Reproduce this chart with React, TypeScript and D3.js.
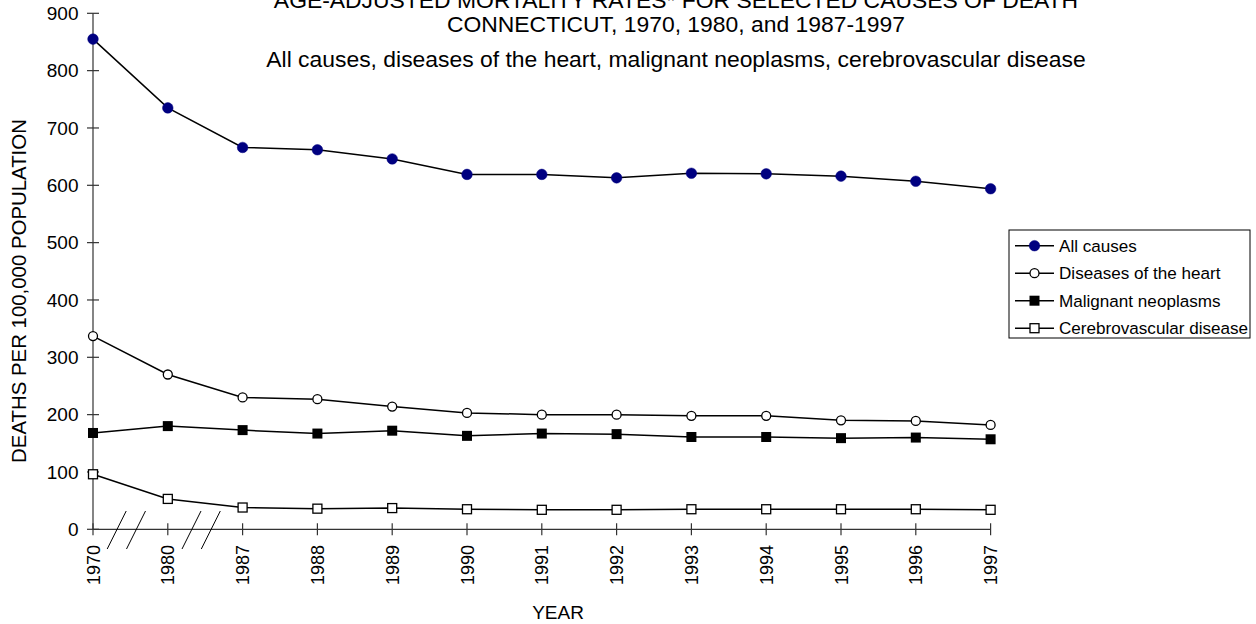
import React from "react";
import * as d3 from "d3";

const years = ["1970", "1980", "1987", "1988", "1989", "1990", "1991", "1992", "1993", "1994", "1995", "1996", "1997"];
const allCauses = [855, 735, 666, 662, 646, 619, 619, 613, 621, 620, 616, 607, 594];
const heartDisease = [337, 270, 230, 227, 214, 203, 200, 200, 198, 198, 190, 189, 182];
const malignantNeoplasms = [168, 180, 173, 167, 172, 163, 167, 166, 161, 161, 159, 160, 157];
const cerebrovascular = [96, 53, 38, 36, 37, 35, 34, 34, 35, 35, 35, 35, 34];
const yTicks = [0, 100, 200, 300, 400, 500, 600, 700, 800, 900];
const seriesNames = ["All causes", "Diseases of the heart", "Malignant neoplasms", "Cerebrovascular disease"];
const breakGaps: [string, string][] = [["1970", "1980"], ["1980", "1987"]];
const titleLines = [
  "AGE-ADJUSTED MORTALITY RATES* FOR SELECTED CAUSES OF DEATH",
  "CONNECTICUT, 1970, 1980, and 1987-1997",
  "All causes, diseases of the heart, malignant neoplasms, cerebrovascular disease",
];

type Marker = "filledCircle" | "openCircle" | "filledSquare" | "openSquare";
const series: { name: string; values: number[]; marker: Marker; fill: string }[] = [
  { name: seriesNames[0], values: allCauses, marker: "filledCircle", fill: "#000080" },
  { name: seriesNames[1], values: heartDisease, marker: "openCircle", fill: "#ffffff" },
  { name: seriesNames[2], values: malignantNeoplasms, marker: "filledSquare", fill: "#000000" },
  { name: seriesNames[3], values: cerebrovascular, marker: "openSquare", fill: "#ffffff" },
];

const FONT = "'Liberation Sans', Arial, sans-serif";

function MarkerShape({ type, x, y, fill }: { type: Marker; x: number; y: number; fill: string }) {
  if (type === "filledCircle") return <circle cx={x} cy={y} r={5.3} fill={fill} stroke={fill} strokeWidth={0.5} />;
  if (type === "openCircle") return <circle cx={x} cy={y} r={4.5} fill="#fff" stroke="#000" strokeWidth={1.3} />;
  if (type === "filledSquare") return <rect x={x - 5} y={y - 5} width={10} height={10} fill="#000" />;
  return <rect x={x - 4.5} y={y - 4.5} width={9} height={9} fill="#fff" stroke="#000" strokeWidth={1.3} />;
}

export default function App() {
  const W = 1256, H = 624;
  const x = d3.scalePoint<string>().domain(years).range([93, 990.6]).padding(0);
  const y = d3.scaleLinear().domain([0, 900]).range([529.3, 13.3]);
  const line = d3
    .line<number>()
    .x((_, i) => x(years[i]) as number)
    .y((d) => y(d));
  const axisColor = "#333";
  const x0 = x(years[0]) as number;
  const x1 = x(years[years.length - 1]) as number;

  const legendX = 1009, legendY = 230, legendW = 241, legendH = 108;
  const rowH = 27.5;

  return (
    <svg width={W} height={H} style={{ position: "absolute", left: 0, top: 0, background: "#fff" }} fontFamily={FONT}>
      <rect width={W} height={H} fill="#fff" />
      {/* Title */}
      {titleLines.map((t, i) => (
        <text key={t} x={676} y={[8, 32, 66.5][i]} textAnchor="middle" fontSize={22.9} fill="#000">
          {t}
        </text>
      ))}
      {/* Y axis */}
      <line x1={x0} x2={x0} y1={y(900)} y2={y(0)} stroke={axisColor} strokeWidth={1.2} />
      {yTicks.map((t) => (
        <g key={t}>
          <line x1={x0 - 6} x2={x0 + 6} y1={y(t)} y2={y(t)} stroke={axisColor} strokeWidth={1.2} />
          <text x={78.5} y={y(t)} dy="0.35em" textAnchor="end" fontSize={19} fill="#000">
            {t}
          </text>
        </g>
      ))}
      {/* X axis */}
      <line x1={x0} x2={x1} y1={y(0)} y2={y(0)} stroke={axisColor} strokeWidth={1.2} />
      {years.map((yr) => (
        <g key={yr}>
          <line x1={x(yr)} x2={x(yr)} y1={y(0) - 6} y2={y(0) + 6} stroke={axisColor} strokeWidth={1.2} />
          <text
            transform={`translate(${(x(yr) as number) + 6.5},545) rotate(-90)`}
            textAnchor="end"
            fontSize={18}
            fill="#000"
          >
            {yr}
          </text>
        </g>
      ))}
      {/* Axis break marks */}
      {breakGaps.map(([a, b]) => {
        const mid = ((x(a) as number) + (x(b) as number)) / 2;
        return [-13.7, 5.6].map((off) => (
          <line
            key={a + off}
            x1={mid + off + 9.5}
            y1={511}
            x2={mid + off - 9.5}
            y2={549}
            stroke="#000"
            strokeWidth={1}
          />
        ));
      })}
      {/* Axis titles */}
      <text transform="translate(26,291) rotate(-90)" textAnchor="middle" fontSize={20.4} fill="#000">
        DEATHS PER 100,000 POPULATION
      </text>
      <text x={558} y={619} textAnchor="middle" fontSize={19} fill="#000">
        YEAR
      </text>
      {/* Series */}
      {series.map((s) => (
        <g key={s.name}>
          <path d={line(s.values) as string} fill="none" stroke="#000" strokeWidth={1.5} />
          {s.values.map((v, i) => (
            <MarkerShape key={i} type={s.marker} x={x(years[i]) as number} y={y(v)} fill={s.fill} />
          ))}
        </g>
      ))}
      {/* Legend */}
      <rect x={legendX} y={legendY} width={legendW} height={legendH} fill="#fff" stroke="#000" strokeWidth={1} />
      {series.map((s, i) => {
        const cy = legendY + 15.7 + i * rowH;
        return (
          <g key={s.name}>
            <line x1={1015} x2={1054} y1={cy} y2={cy} stroke="#000" strokeWidth={1.5} />
            <MarkerShape type={s.marker} x={1034.5} y={cy} fill={s.fill} />
            <text x={1059} y={cy} dy="0.35em" fontSize={17.1} fill="#000">
              {s.name}
            </text>
          </g>
        );
      })}
    </svg>
  );
}
